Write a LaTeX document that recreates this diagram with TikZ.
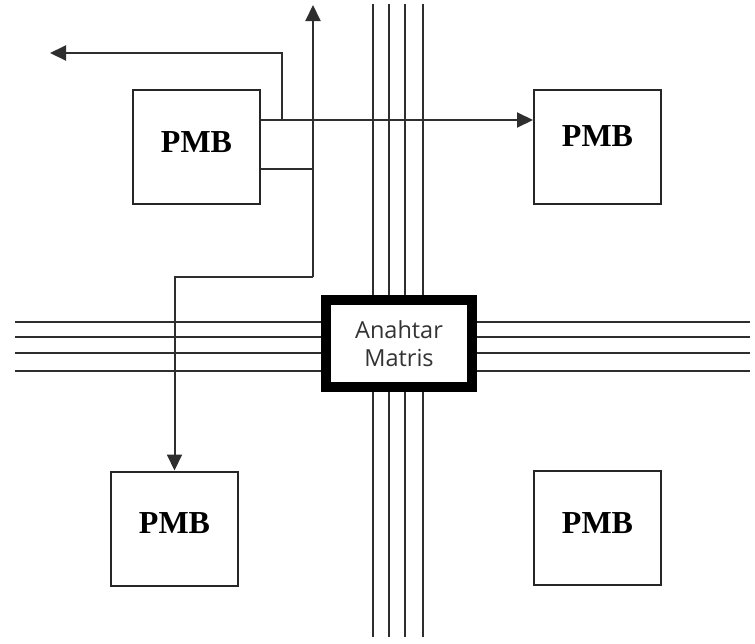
\documentclass[tikz,border=0pt]{standalone}
\usepackage{fontspec}
\setmainfont{Liberation Serif}
\newfontfamily\osans{Open Sans}
\usetikzlibrary{arrows.meta}
\definecolor{lc}{HTML}{2E2E2E}
\begin{document}
\begin{tikzpicture}[x=1pt,y=-1pt,
  wire/.style={draw=lc, line width=2pt},
  arr/.style={wire, -{Triangle[length=16pt,width=15pt]}},
  pmb/.style={draw=black!85, line width=2pt, minimum width=127pt, minimum height=114pt,
    inner sep=0pt, font=\fontsize{32}{36}\selectfont\bfseries, text depth=10pt},
  switchbox/.style={draw=black, line width=10pt, fill=white, minimum width=146pt,
    minimum height=87pt, inner sep=0pt, align=center, text=black!80,
    font=\osans\fontsize{23.5}{28}\selectfont}]
\useasboundingbox (0,0) rectangle (755,643);
% bus lines
\foreach \x in {373,389,405,423} \draw[wire] (\x,4) -- (\x,637);
\foreach \y in {322,337,353,371} \draw[wire] (15,\y) -- (750,\y);
% switch matrix
\node[switchbox] (sw) at (399,343.5) {Anahtar\\Matris};
% PMB boxes
\node[pmb] (tl) at (196.5,147) {PMB};
\node[pmb, text depth=22pt] (tr) at (597.5,147) {PMB};
\node[pmb] (bl) at (174.5,528.5) {PMB};
\node[pmb] (br) at (597.5,528) {PMB};
% connectors
\coordinate (j1) at (282,120);
\coordinate (lo) at (50,53);
\coordinate (up) at (313,5);
\coordinate (bend) at (313,277);
\draw[arr] (tl.east |- j1) -- (tr.west |- j1);
\draw[arr] (j1) -- (j1 |- lo) -- (lo);
\draw[wire] (tl.east |- 0,169) -- (up |- 0,169);
\draw[arr] (bend) -- (up);
\draw[arr] (bend) -- (bl.north |- bend) -- (bl.north);
\end{tikzpicture}
\end{document}
